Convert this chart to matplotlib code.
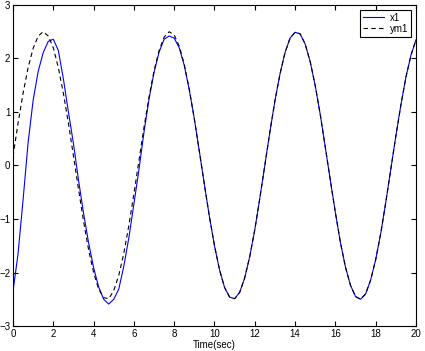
import numpy as np
import matplotlib.pyplot as plt

plt.rcParams['font.family'] = ['Liberation Sans', 'DejaVu Sans']

# time axis (sec), sampled every 0.25 s
time = np.arange(0, 20.01, 0.25)

# reference model output ym1
ym1 = [0.17, 0.79, 1.35, 1.83, 2.19, 2.42, 2.50, 2.42, 2.20, 1.83,
       1.35, 0.79, 0.18, -0.44, -1.04, -1.57, -2.00, -2.31, -2.47, -2.49,
       -2.34, -2.05, -1.64, -1.12, -0.53, 0.09, 0.71, 1.28, 1.77, 2.15,
       2.40, 2.50, 2.44, 2.23, 1.89, 1.42, 0.87, 0.26, -0.36, -0.96,
       -1.50, -1.95, -2.28, -2.46, -2.49, -2.37, -2.10, -1.70, -1.20, -0.61,
       0.01, 0.63, 1.21, 1.71, 2.11, 2.38, 2.49, 2.46, 2.27, 1.94,
       1.49, 0.95, 0.34, -0.28, -0.88, -1.44, -1.90, -2.24, -2.45, -2.50,
       -2.40, -2.14, -1.76, -1.27, -0.69, -0.07, 0.55, 1.13, 1.65, 2.06,
       2.35]

# plant state x1 (converges onto ym1 after ~9 s)
x1 = [-2.35, -1.65, -0.64, 0.43, 1.22, 1.76, 2.11, 2.32, 2.36, 2.15,
      1.62, 1.00, 0.41, -0.27, -0.89, -1.44, -1.91, -2.27, -2.50, -2.59,
      -2.50, -2.31, -1.88, -1.35, -0.72, -0.08, 0.62, 1.24, 1.74, 2.12,
      2.36, 2.42, 2.38, 2.20, 1.87, 1.41, 0.87, 0.26, -0.36, -0.96,
      -1.50, -1.95, -2.28, -2.46, -2.49, -2.37, -2.10, -1.70, -1.20, -0.61,
      0.01, 0.63, 1.21, 1.71, 2.11, 2.38, 2.49, 2.46, 2.27, 1.94,
      1.49, 0.95, 0.34, -0.28, -0.88, -1.44, -1.90, -2.24, -2.45, -2.50,
      -2.40, -2.14, -1.76, -1.27, -0.69, -0.07, 0.55, 1.13, 1.65, 2.06,
      2.35]

fig = plt.figure(figsize=(4.25, 3.51), dpi=100)
ax = fig.add_axes([0.0306, 0.0712, 0.9482, 0.9146])

ax.plot(time, x1, color='#0000ff', lw=0.8, label='x1')
ax.plot(time, ym1, color='black', lw=0.8, linestyle=(0, (4, 3)), label='ym1')

ax.set_xlim(0, 20)
ax.set_ylim(-3, 3)
ax.set_xticks(range(0, 21, 2))
ax.set_yticks(range(-3, 4))
ax.tick_params(direction='in', length=3.5, width=0.8, labelsize=7,
               top=True, right=True, pad=2)
for sp in ax.spines.values():
    sp.set_linewidth(0.8)

ax.set_xlabel('Time(sec)', fontsize=7, labelpad=1)

leg = ax.legend(loc='upper right', fontsize=7, frameon=True, fancybox=False,
                edgecolor='black', framealpha=1, handlelength=2.2,
                borderpad=0.3, labelspacing=0.1, handletextpad=0.6,
                borderaxespad=0.5)
leg.get_frame().set_linewidth(0.8)

fig.savefig('out.png', dpi=100)
